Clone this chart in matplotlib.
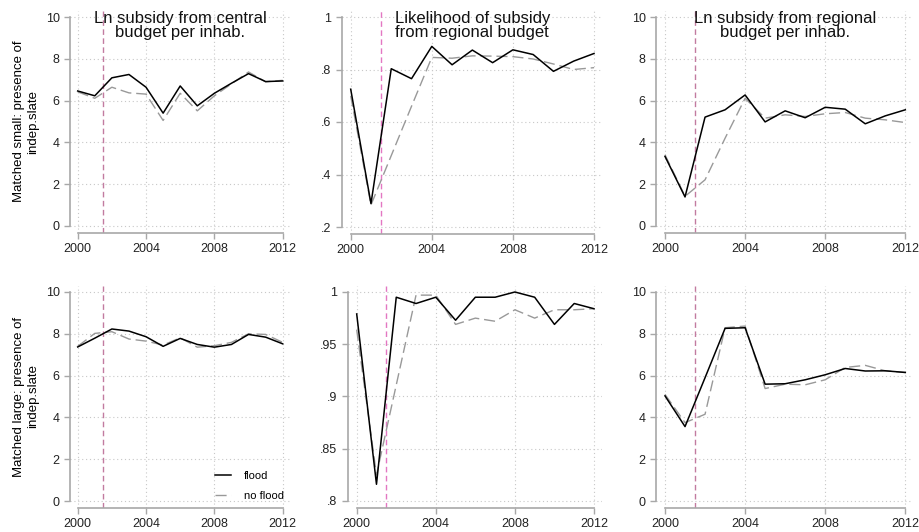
import numpy as np
import matplotlib
matplotlib.use('Agg')
import matplotlib.pyplot as plt

plt.rcParams['font.family'] = ['Liberation Sans', 'DejaVu Sans']

years = list(range(2000, 2013))

# matched small, ln subsidy central budget
small_central_flood = [6.46, 6.23, 7.09, 7.25, 6.64, 5.40, 6.70, 5.75, 6.35, 6.83, 7.29, 6.91, 6.94]
small_central_noflood = [6.42, 6.11, 6.64, 6.37, 6.31, 5.05, 6.35, 5.51, 6.23, 6.80, 7.37, 6.90, 6.97]
# matched small, likelihood regional subsidy
small_likely_flood = [0.725, 0.289, 0.803, 0.765, 0.888, 0.818, 0.874, 0.826, 0.875, 0.857, 0.793, 0.832, 0.861]
small_likely_noflood = [0.70, 0.284, 0.472, 0.66, 0.846, 0.843, 0.852, 0.851, 0.849, 0.840, 0.821, 0.800, 0.807]
# matched small, ln subsidy regional budget
small_regional_flood = [3.33, 1.39, 5.21, 5.56, 6.27, 4.98, 5.51, 5.18, 5.68, 5.59, 4.89, 5.27, 5.56]
small_regional_noflood = [3.41, 1.42, 2.21, 4.20, 6.11, 5.16, 5.32, 5.24, 5.37, 5.43, 5.16, 5.08, 4.95]

# matched large
large_central_flood = [7.37, 7.79, 8.23, 8.13, 7.86, 7.40, 7.78, 7.49, 7.36, 7.49, 7.97, 7.84, 7.52]
large_central_noflood = [7.40, 8.02, 8.10, 7.75, 7.65, 7.46, 7.81, 7.36, 7.43, 7.59, 8.00, 7.97, 7.59]
large_likely_flood = [0.979, 0.816, 0.995, 0.989, 0.995, 0.973, 0.995, 0.995, 1.000, 0.995, 0.969, 0.989, 0.984]
large_likely_noflood = [0.964, 0.825, 0.911, 0.997, 0.997, 0.969, 0.975, 0.972, 0.983, 0.975, 0.983, 0.983, 0.984]
large_regional_flood = [5.03, 3.56, 5.90, 8.26, 8.29, 5.59, 5.61, 5.80, 6.04, 6.34, 6.22, 6.23, 6.15]
large_regional_noflood = [5.10, 3.75, 4.15, 8.29, 8.37, 5.38, 5.59, 5.56, 5.80, 6.39, 6.49, 6.23, 6.15]

titles = ['Ln subsidy from central\nbudget per inhab.',
          'Likelihood of subsidy\nfrom regional budget',
          'Ln subsidy from regional\nbudget per inhab.']
row_labels = ['Matched small: presence of\nindep.slate', 'Matched large: presence of\nindep.slate']

ln_ticks = [0, 2, 4, 6, 8, 10]
ln_labels = ['0', '2', '4', '6', '8', '10']
small_prob_ticks = [0.2, 0.4, 0.6, 0.8, 1.0]
small_prob_labels = ['.2', '.4', '.6', '.8', '1']
large_prob_ticks = [0.8, 0.85, 0.9, 0.95, 1.0]
large_prob_labels = ['.8', '.85', '.9', '.95', '1']
xticks = [2000, 2004, 2008, 2012]

W, H = 919, 532
fig = plt.figure(figsize=(W / 100, H / 100), dpi=100)

# pixel positions: x of 2000, x of 2012, y of top tick, y of bottom tick
boxes = [
    [(77.7, 282.7, 17, 226), (350.7, 594.0, 17, 227), (665.0, 905.3, 17, 226)],
    [(77.7, 282.7, 292, 501), (356.7, 594.0, 292, 501), (665.0, 905.3, 292, 501)],
]
panels = [
    [(small_central_flood, small_central_noflood, ln_ticks, ln_labels),
     (small_likely_flood, small_likely_noflood, small_prob_ticks, small_prob_labels),
     (small_regional_flood, small_regional_noflood, ln_ticks, ln_labels)],
    [(large_central_flood, large_central_noflood, ln_ticks, ln_labels),
     (large_likely_flood, large_likely_noflood, large_prob_ticks, large_prob_labels),
     (large_regional_flood, large_regional_noflood, ln_ticks, ln_labels)],
]

spine_col = '#a8a8a8'
for r in range(2):
    for c in range(3):
        x0, x1, yt, yb = boxes[r][c]
        flood, noflood, yticks, ylabels = panels[r][c]
        ppy = (x1 - x0) / 12.0
        xlo, xhi = 2000 - 0.45, 2012 + 0.4
        left = x0 - 0.45 * ppy
        width = (xhi - xlo) * ppy
        lo, hi = yticks[0], yticks[-1]
        ppu = (yb - yt) / (hi - lo)
        ylo = lo - 7.0 / ppu
        yhi = hi + 6.0 / ppu
        top = yt - 6.0
        bottom = yb + 7.0
        ax = fig.add_axes([left / W, 1 - bottom / H, width / W, (bottom - top) / H])
        ax.set_xlim(xlo, xhi)
        ax.set_ylim(ylo, yhi)

        for yv in yticks:
            ax.axhline(yv, color='#c8c8c8', lw=0.8, ls=(0, (1, 2.5)), zorder=0)
        for xv in xticks:
            ax.axvline(xv, color='#c8c8c8', lw=0.8, ls=(0, (1, 2.5)), zorder=0)

        vcol = '#e377c2' if c == 1 else '#c27ba0'
        ax.axvline(2001.5, color=vcol, lw=1.0, ls=(0, (4, 2.5)), zorder=1)

        ax.plot(years, noflood, color='#999999', lw=1.0, dashes=(8, 3.5), label='no flood', zorder=2)
        ax.plot(years, flood, color='black', lw=1.1, label='flood', zorder=3)

        for s in ['top', 'right']:
            ax.spines[s].set_visible(False)
        for s in ['left', 'bottom']:
            ax.spines[s].set_color(spine_col)
            ax.spines[s].set_linewidth(1.2)
        ax.spines['left'].set_bounds(lo, hi)
        ax.spines['bottom'].set_bounds(2000, 2012)
        ax.set_xticks(xticks)
        ax.set_xticklabels([str(x) for x in xticks])
        ax.set_yticks(yticks)
        ax.set_yticklabels(ylabels)
        ax.tick_params(colors=spine_col, labelcolor='#222222', labelsize=9, length=4, width=1.0)

        if r == 0:
            ax.text(2006, 1.0, titles[c], transform=ax.get_xaxis_transform(),
                    ha='center', va='top', fontsize=12, linespacing=0.95,
                    color='#111111', zorder=4)

        if r == 1 and c == 0:
            h, l = ax.get_legend_handles_labels()
            ax.legend([h[1], h[0]], [l[1], l[0]], loc='lower right', frameon=False,
                      fontsize=8, handlelength=1.4, handletextpad=1.2, labelspacing=0.9,
                      bbox_to_anchor=(1.02, -0.012))

fig.text(26 / W, 1 - 121.5 / H, row_labels[0], rotation=90, ha='center', va='center',
         fontsize=9.5, multialignment='center')
fig.text(26 / W, 1 - 396.5 / H, row_labels[1], rotation=90, ha='center', va='center',
         fontsize=9.5, multialignment='center')

fig.savefig('out.png', dpi=100)
